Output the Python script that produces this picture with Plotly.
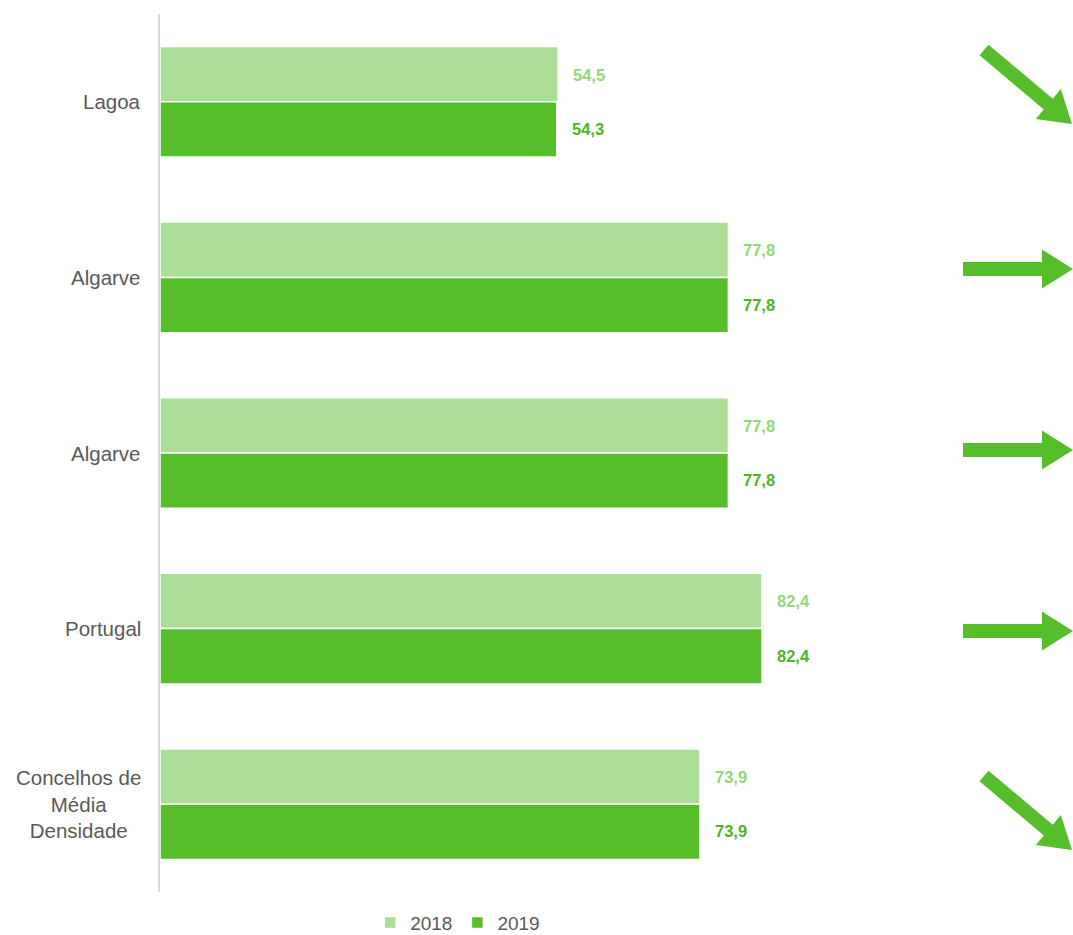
import plotly.graph_objects as go

categories = ["Lagoa", "Algarve", "Algarve", "Portugal", "Concelhos de<br>Média<br>Densidade"]
values_2018 = [54.5, 77.8, 77.8, 82.4, 73.9]
values_2019 = [54.3, 77.8, 77.8, 82.4, 73.9]
trend = ["down", "flat", "flat", "flat", "down"]

LIGHT = "#ABDF97"
DARK = "#56BE2B"
LIGHT_TXT = "#93D679"
DARK_TXT = "#4DB526"
GREY = "#595959"

# plot area in pixels (used only to place the decorative arrows)
L, R, T, B = 160, 1073, 14, 892


def fmt(v):
    return f"{v:.1f}".replace(".", ",")


def px(x, y):
    return (x - L) / (R - L), 1 - (y - T) / (B - T)


def arrow_path(tail, tip, shaft=14, head_w=39, head_l=31):
    tx, ty = tail
    hx, hy = tip
    dx, dy = hx - tx, hy - ty
    n = (dx * dx + dy * dy) ** 0.5
    ux, uy = dx / n, dy / n
    nx, ny = -uy, ux
    bx, by = hx - ux * head_l, hy - uy * head_l
    pts = [
        (tx + nx * shaft / 2, ty + ny * shaft / 2),
        (bx + nx * shaft / 2, by + ny * shaft / 2),
        (bx + nx * head_w / 2, by + ny * head_w / 2),
        (hx, hy),
        (bx - nx * head_w / 2, by - ny * head_w / 2),
        (bx - nx * shaft / 2, by - ny * shaft / 2),
        (tx - nx * shaft / 2, ty - ny * shaft / 2),
    ]
    pp = [px(*p) for p in pts]
    return "M " + " L ".join(f"{a:.5f},{b:.5f}" for a, b in pp) + " Z"


ypos = list(range(len(categories)))

fig = go.Figure()
fig.add_trace(go.Bar(y=ypos, x=values_2018, orientation="h", name="2018",
                     marker=dict(color=LIGHT, line=dict(color="white", width=1.5))))
fig.add_trace(go.Bar(y=ypos, x=values_2019, orientation="h", name="2019",
                     marker=dict(color=DARK, line=dict(color="white", width=1.5))))

annotations = []
for i, (a, b) in enumerate(zip(values_2018, values_2019)):
    annotations.append(dict(x=a, y=i - 0.155, text=f"<b>{fmt(a)}</b>", showarrow=False,
                            xanchor="left", xshift=13, font=dict(color=LIGHT_TXT, size=16.5)))
    annotations.append(dict(x=b, y=i + 0.155, text=f"<b>{fmt(b)}</b>", showarrow=False,
                            xanchor="left", xshift=13, font=dict(color=DARK_TXT, size=16.5)))

# category labels (centred multi-line like the original)
for i, c in enumerate(categories):
    annotations.append(dict(xref="paper", x=0, y=i, text=c, showarrow=False, xanchor="right",
                            xshift=-17, align="center", font=dict(color=GREY, size=20.5)))

shapes = []
arrow_y = [None, 269, 450, 631, None]
for i, t in enumerate(trend):
    if t == "down":
        base = 45 if i == 0 else 771
        path = arrow_path((984, base + 5), (1072, base + 79))
    else:
        y = arrow_y[i]
        path = arrow_path((963, y), (1073, y))
    shapes.append(dict(type="path", path=path, xref="paper", yref="paper",
                       fillcolor=DARK, line=dict(width=0)))

fig.update_layout(
    width=1073, height=935,
    margin=dict(l=L, r=1073 - R, t=T, b=935 - B, autoexpand=False),
    plot_bgcolor="white", paper_bgcolor="white",
    barmode="group", bargap=0.37, bargroupgap=0,
    font=dict(family="Liberation Sans, Arial, sans-serif", color=GREY, size=20),
    xaxis=dict(range=[0, (R - L) / 7.306], visible=False),
    yaxis=dict(range=[4.5, -0.5], tickvals=ypos, showticklabels=False,
               showline=True, linecolor="#D9D9D9", linewidth=2,
               showgrid=False, zeroline=False, ticks=""),
    legend=dict(orientation="h", x=0.326, xanchor="center", y=-0.035, yanchor="middle",
                font=dict(size=19, color=GREY), itemwidth=30, traceorder="normal",
                borderwidth=0, bgcolor="rgba(0,0,0,0)"),
    annotations=annotations,
    shapes=shapes,
    showlegend=True,
)

fig.write_html("out.html", config={"displayModeBar": False},
               post_script="document.body.style.margin='0';document.body.style.overflow='hidden';")
